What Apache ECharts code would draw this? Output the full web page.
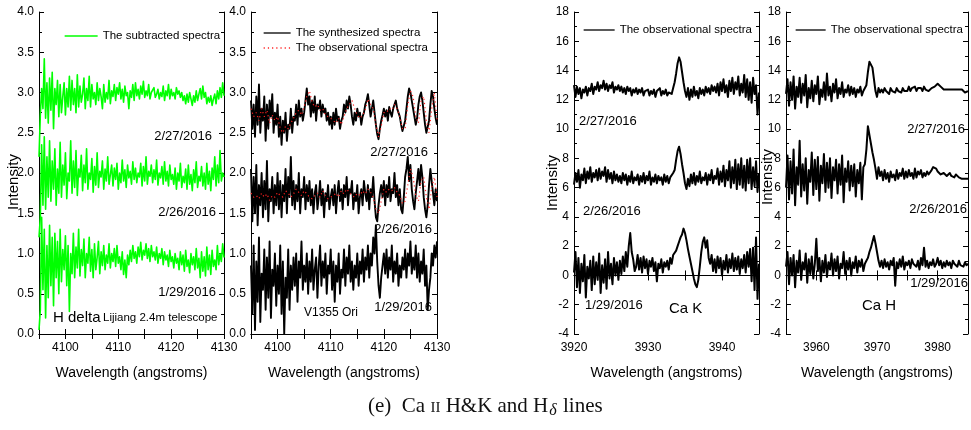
<!DOCTYPE html>
<html>
<head>
<meta charset="utf-8">
<script src="https://cdn.jsdelivr.net/npm/echarts@6/dist/echarts.min.js"></script>
<style>
html,body{margin:0;padding:0;background:#fff;}
#chart{width:971px;height:430px;}
</style>
</head>
<body>
<div id="chart"></div>
<script>
// ---------------- DATA ----------------
// Panel 1: H delta subtracted spectra, 4095-4130 A, step 0.25 A
const hdStart = 4095, hdStep = 0.25;
const sub20160227 = [2.20,2.72,3.05,2.80,3.42,2.68,3.12,2.62,3.18,2.78,
3.25,2.55,3.05,2.85,3.15,2.70,3.10,2.75,2.95,3.12,
2.72,3.05,2.82,3.20,2.78,3.15,2.85,3.05,2.75,3.22,
2.82,3.08,2.88,2.98,3.18,2.80,3.05,2.90,3.20,2.82,
3.10,2.92,3.00,2.85,3.12,2.90,3.05,2.95,2.80,3.10,
2.88,3.00,2.92,3.15,2.86,3.02,2.95,3.10,2.90,3.06,
2.98,3.12,2.92,3.04,2.88,3.08,2.96,3.00,2.80,3.02,
2.94,3.10,2.90,3.12,2.96,3.04,2.92,3.08,2.98,3.14,
2.94,3.02,2.96,3.10,2.92,3.00,2.98,3.06,2.94,2.98,
3.04,2.92,3.00,2.95,3.08,2.90,3.02,2.96,3.10,2.92,
3.04,2.96,3.00,2.92,3.06,2.98,3.02,2.94,3.00,2.90,
2.96,2.86,2.98,2.88,3.00,2.92,2.84,2.96,2.88,3.02,
2.90,2.98,3.05,2.92,3.08,2.94,3.00,2.86,2.94,2.88,
2.96,2.84,2.92,2.98,2.86,3.02,2.92,3.06,2.94,3.12,2.96];
const sub20160226 = [1.20,1.45,2.35,1.60,2.45,1.55,2.20,1.70,2.40,1.65,
2.15,1.80,2.30,1.60,2.05,1.75,2.38,1.70,2.10,1.85,
2.25,1.68,2.00,1.90,2.40,1.75,2.15,1.82,2.28,1.72,
2.05,1.95,2.22,1.78,2.10,1.88,2.30,1.80,2.00,1.92,
2.18,1.76,2.08,1.85,2.25,1.82,2.02,1.95,2.15,1.80,
2.05,1.90,2.20,1.86,1.98,2.10,1.84,2.06,1.92,2.12,
1.80,2.00,1.88,2.16,1.90,2.04,1.82,2.10,1.94,2.02,
1.86,2.14,1.92,2.06,1.88,2.00,1.95,2.12,1.84,2.08,
1.90,2.20,1.86,2.02,1.96,2.10,1.88,2.04,1.92,2.16,
1.85,2.00,1.94,2.08,1.86,2.14,1.90,2.02,1.84,2.10,
1.92,1.98,1.86,2.06,1.80,2.00,1.90,2.12,1.82,1.96,
1.88,2.05,1.80,2.10,1.86,1.98,1.78,2.04,1.88,2.14,
1.82,1.96,1.90,2.08,1.84,2.00,1.80,2.12,1.86,2.02,
1.78,2.06,1.92,2.20,1.84,2.10,1.88,2.28,1.90,2.00,1.95];
const sub20160129 = [0.05,0.30,1.45,0.55,1.30,0.20,1.10,0.45,1.35,0.60,
1.20,0.35,1.25,0.70,1.15,0.50,1.30,0.65,1.05,0.80,
1.22,0.60,1.10,0.28,1.00,0.75,1.25,0.70,1.08,0.82,
1.30,0.72,1.05,0.85,1.18,0.70,1.00,0.88,1.20,0.78,
1.05,0.70,1.12,0.80,0.95,1.15,0.75,1.02,0.85,1.10,
0.80,0.98,0.88,1.12,0.82,1.00,0.90,1.06,0.84,1.10,
0.88,0.96,0.80,1.02,0.74,0.92,0.70,0.98,0.86,1.04,
0.90,1.10,0.94,1.02,0.88,1.08,0.96,1.14,0.92,1.04,
0.98,1.12,0.94,1.06,0.90,1.10,0.96,1.02,0.92,1.08,
0.88,1.00,0.94,1.06,0.86,1.02,0.92,0.98,0.84,1.04,
0.90,0.96,0.82,1.00,0.88,0.94,0.80,1.02,0.86,0.98,
0.78,1.04,0.84,0.92,0.76,1.00,0.86,0.96,0.80,1.06,
0.82,0.94,0.70,1.02,0.78,0.96,0.72,1.08,0.80,0.98,
0.74,1.04,0.84,0.92,0.80,1.10,0.86,1.00,0.90,1.12,0.95];

// Panel 2: synthesized (step 0.25 A) and observational (step 0.5 A) spectra
const obsStep = 0.5;
const syn20160227 = [2.90,2.55,2.85,2.45,2.95,2.60,3.10,2.50,2.80,2.65,2.95,2.40,2.85,2.55,2.90,2.70,2.98,2.50,2.75,2.60,2.85,
2.45,2.70,2.35,2.65,2.50,2.75,2.40,2.60,2.55,2.80,2.50,2.70,
2.65,2.85,2.60,2.90,2.70,2.80,2.65,2.75,2.90,3.05,2.85,2.95,
2.70,2.90,2.75,2.95,2.65,2.85,2.80,2.90,2.70,2.85,2.75,2.80,2.65,2.75,2.60,2.70,
2.55,2.75,2.60,2.80,2.65,2.70,2.55,2.65,2.70,2.85,2.75,2.90,2.80,2.95,2.85,2.70,
2.60,2.75,2.65,2.80,2.70,2.75,2.60,2.70,2.75,2.85,2.90,2.98,2.85,2.70,2.80,2.90,
2.75,2.60,2.48,2.42,2.55,2.65,2.72,2.80,
2.70,2.78,2.65,2.82,2.75,2.70,2.80,2.85,2.90,2.80,2.75,2.70,2.60,2.52,2.50,2.65,
2.80,2.95,3.05,3.00,2.90,2.80,2.70,2.60,2.68,2.85,2.95,3.00,
2.90,2.75,2.60,2.50,2.48,2.65,2.85,3.02,2.95,2.80,2.68,2.60];
const syn20160226 = [2.05,1.40,1.95,1.50,2.10,1.35,1.85,1.60,2.00,1.45,1.90,1.55,2.15,1.40,1.80,1.65,1.95,1.50,1.85,1.60,2.00,
1.55,1.90,1.45,1.85,1.65,2.05,1.50,1.95,1.70,2.20,1.60,1.90,
1.55,1.85,1.65,2.00,1.50,1.80,1.70,1.95,1.55,1.85,1.65,1.90,
1.60,1.80,1.50,1.75,1.85,1.55,1.70,1.90,1.60,1.80,1.45,1.75,1.65,1.85,1.55,1.70,
1.80,1.60,1.85,1.50,1.75,1.90,1.65,1.80,1.55,1.85,1.70,1.95,1.60,1.80,1.75,1.90,
1.55,1.75,1.65,1.85,1.50,1.70,1.80,1.60,1.90,1.75,1.65,1.85,1.55,1.80,1.70,1.95,
1.65,1.45,1.40,1.60,1.75,1.85,1.70,1.90,
1.60,1.85,1.70,1.95,1.65,1.80,1.75,2.00,1.70,1.85,1.60,1.80,1.55,1.50,1.70,1.95,
2.05,2.20,1.90,2.10,1.80,1.65,1.55,1.75,1.90,2.05,1.85,2.10,
1.95,1.70,1.55,1.45,1.60,1.85,2.05,1.90,1.75,1.60,1.80,1.65];
const syn20160129 = [0.85,0.25,1.10,0.05,0.90,0.40,1.20,0.15,0.75,0.55,1.05,0.30,0.95,0.45,1.15,0.20,0.80,0.60,1.00,0.35,0.85,
0.50,1.10,0.25,0.90,0.00,0.70,0.45,1.05,0.30,0.85,0.55,0.95,
0.60,1.00,0.40,0.90,0.70,1.15,0.55,0.85,0.65,1.00,0.50,0.90,
0.65,1.05,0.55,0.80,0.95,0.45,0.85,1.10,0.60,0.90,0.70,1.00,0.50,0.85,0.75,1.05,
0.55,0.90,0.40,0.85,0.65,1.00,0.50,0.80,0.70,1.05,0.60,0.95,0.75,1.10,0.65,0.90,
0.55,0.85,0.70,1.00,0.60,0.90,0.75,1.05,0.65,0.95,0.80,1.10,0.70,1.00,0.85,1.20,
1.00,1.35,0.90,0.60,0.45,0.70,0.85,1.00,
0.75,1.05,0.70,0.95,0.80,1.10,0.65,0.90,0.75,1.00,0.60,0.85,0.70,0.95,0.80,1.05,
0.70,1.00,0.85,1.15,0.75,0.95,0.80,1.10,0.70,1.00,0.65,0.90,
0.75,1.05,0.60,0.85,0.30,0.55,0.70,1.00,0.85,1.10,0.95,1.15];
const obs20160227 = [2.80,2.70,2.75,2.65,2.80,2.70,2.78,2.62,2.72,2.65,2.70,
2.55,2.50,2.58,2.55,2.62,2.68,2.75,2.78,2.72,2.82,
2.95,3.02,2.88,2.82,2.85,2.78,2.80,2.72,2.70,2.68,
2.65,2.62,2.68,2.60,2.70,2.80,2.85,2.90,2.80,2.72,
2.68,2.72,2.78,2.92,2.85,2.80,2.60,2.45,2.58,2.75,
2.75,2.80,2.78,2.85,2.80,2.70,2.55,2.55,2.85,3.02,
2.95,2.70,2.62,2.90,2.95,2.65,2.50,2.80,3.00,2.65];
const obs20160226 = [1.75,1.70,1.72,1.68,1.75,1.70,1.74,1.66,1.72,1.70,1.76,
1.72,1.70,1.78,1.75,1.70,1.74,1.80,1.76,1.72,1.78,
1.74,1.70,1.68,1.72,1.75,1.70,1.78,1.72,1.68,1.70,
1.72,1.75,1.70,1.78,1.74,1.80,1.76,1.72,1.70,1.75,
1.72,1.78,1.74,1.80,1.76,1.70,1.55,1.50,1.65,1.80,
1.76,1.80,1.78,1.82,1.76,1.72,1.62,1.65,1.85,2.05,
1.95,1.72,1.65,1.90,1.95,1.70,1.55,1.82,1.95,1.70];

// Panel 3: Ca K, 3920-3945 A, step 0.2 A
const kStart = 3920, kStep = 0.2;
const caK20160227 = [13.0,12.2,12.9,12.4,12.8,12.1,12.7,12.5,12.9,12.3,12.8,12.6,13.1,12.4,12.9,12.7,
13.2,12.6,13.0,12.8,13.3,12.7,13.1,12.6,13.0,12.8,13.2,12.5,12.9,12.7,13.0,
12.6,12.9,12.5,12.8,12.4,12.9,12.6,12.8,12.3,12.7,12.5,12.8,12.4,12.7,12.5,
12.8,12.3,12.6,12.5,12.7,12.3,12.6,12.4,12.7,12.2,12.6,12.5,12.8,12.3,12.6,12.4,12.7,12.3,12.5,12.6,12.4,12.8,
13.2,13.8,14.5,14.9,14.6,13.9,13.2,12.6,12.2,12.8,
12.0,12.7,12.2,12.9,12.3,12.6,12.1,12.8,12.4,12.7,12.3,12.9,12.5,12.8,12.4,13.0,12.6,12.9,12.5,13.1,
12.3,13.2,12.6,13.4,12.5,13.0,12.2,13.3,12.6,13.5,12.4,13.2,12.7,13.6,12.3,13.1,12.5,13.7,12.2,13.4,
12.0,13.2,11.8,13.5,12.4,13.0,11.0,12.5];
const caK20160226 = [6.2,7.0,6.4,7.2,6.0,6.9,6.5,7.3,6.3,7.1,6.6,7.4,6.4,7.0,6.7,7.2,
6.5,7.3,6.6,7.1,6.8,7.4,6.4,7.2,6.6,7.0,6.3,7.1,6.5,6.9,6.4,
6.8,6.3,7.0,6.5,6.9,6.2,6.8,6.4,7.1,6.3,6.7,6.5,6.9,6.2,6.8,
6.4,7.0,6.3,6.8,6.5,7.1,6.2,6.7,6.4,6.9,6.3,6.8,6.5,6.7,6.2,6.9,6.4,6.8,6.3,6.7,6.6,7.0,
7.2,7.9,8.5,8.8,8.3,7.6,7.0,6.3,5.9,6.6,
6.1,6.9,6.3,7.0,6.2,6.8,6.4,7.1,6.3,6.7,6.5,7.0,6.2,6.9,6.5,7.2,6.3,6.8,6.6,7.3,
6.2,7.1,6.4,7.5,6.1,7.2,6.5,7.8,6.0,7.4,6.3,7.9,5.9,7.6,6.2,8.0,6.0,7.5,5.8,7.9,
6.3,8.0,5.9,7.4,6.1,7.8,5.7,7.0];
const caK20160129 = [0.2,1.6,-0.8,1.2,-1.2,0.8,-0.4,1.4,-1.5,0.6,-0.2,1.0,-1.0,1.3,-0.6,0.9,
-0.3,1.5,-1.2,0.7,-0.5,1.1,-0.9,1.6,-0.2,0.8,-0.6,1.2,0.0,0.9,-0.3,
1.0,0.1,1.3,0.3,1.6,0.6,2.0,2.9,1.6,1.1,0.3,0.6,1.4,0.4,1.2,
0.2,1.3,0.5,1.1,0.1,1.0,0.6,1.2,0.3,0.9,-0.4,0.8,0.5,1.1,0.2,0.9,0.6,1.0,0.4,1.2,0.8,1.4,
1.4,1.7,2.0,2.3,2.6,2.8,3.2,2.9,2.4,1.8,
1.3,0.8,0.3,-0.2,-0.6,-0.8,-0.3,0.6,1.6,2.3,2.6,1.9,2.4,1.2,0.8,1.4,0.3,1.1,0.2,1.3,
0.5,1.2,0.0,1.0,0.4,1.4,0.2,1.1,0.5,1.5,0.3,1.2,0.4,1.3,0.1,1.1,0.5,1.4,0.2,1.6,
0.6,1.8,-0.4,1.9,-1.0,2.6,-1.6,0.8];

// Panel 4: Ca H, 3955-3985 A, step 0.25 A
const hStart = 3955, hStep = 0.25;
const caH20160227 = [12.4,13.4,11.6,13.2,12.0,13.6,11.4,12.9,12.2,13.5,
11.8,13.1,12.3,13.7,11.5,12.8,12.1,13.3,11.9,13.0,
12.4,13.6,11.7,12.7,12.2,13.2,12.0,13.8,12.3,12.9,
11.9,13.1,12.5,13.4,12.1,12.8,12.4,13.2,12.2,12.7,
12.5,13.0,12.3,12.9,12.4,12.8,12.2,12.7,12.5,12.9,
12.3,12.6,12.5,
13.0,13.9,14.6,14.7,14.2,13.4,12.6,12.2,12.8,12.5,
12.7,12.5,12.8,12.6,12.7,12.4,12.8,12.6,12.7,12.5,
12.8,12.6,12.7,12.5,12.8,12.6,12.7,12.6,12.9,12.6,
12.8,12.7,12.9,12.6,12.8,12.7,12.8,12.6,12.9,12.7,
12.8,12.6,12.7,12.8,12.7,12.9,13.0,13.1,13.0,12.9,
12.8,12.7,12.6,12.7,12.6,12.7,12.8,12.7,12.8,12.7,
12.8,12.7,12.6,12.7,12.6,12.5,12.6,12.6];
const caH20160226 = [6.0,8.2,5.2,7.8,5.6,8.6,4.8,7.4,6.2,9.2,
5.4,7.6,5.8,8.0,4.9,7.2,6.4,8.4,5.5,7.9,
5.9,8.1,5.1,7.5,6.3,8.3,5.7,7.7,6.0,8.0,
5.3,7.4,6.5,7.9,5.6,7.6,6.2,8.2,5.0,7.3,
6.4,7.8,5.8,7.5,6.1,7.6,5.4,7.2,6.3,7.7,
5.2,7.4,7.6,
8.6,10.2,9.6,9.0,8.4,7.9,7.3,6.6,7.4,6.8,
7.1,6.5,7.2,6.6,7.0,6.4,7.1,6.7,6.9,6.5,
7.2,6.6,7.0,6.8,7.3,6.6,7.1,6.7,7.2,6.8,
7.0,6.6,7.3,6.7,7.1,6.9,7.2,6.7,7.0,6.8,
7.1,6.9,7.0,7.2,7.4,7.5,7.3,7.1,7.0,6.9,
6.8,7.0,6.9,6.8,6.9,7.0,6.8,6.9,6.7,6.9,
6.8,6.7,6.8,6.6,6.7,6.6,6.5,6.6];
const caH20160129 = [0.6,1.6,-0.6,1.2,0.0,1.4,-0.8,1.0,0.2,1.7,
-0.3,0.9,0.4,1.5,-0.5,1.1,0.1,1.3,-0.2,0.8,
2.5,0.3,1.2,-0.4,1.0,0.2,1.4,-0.1,0.9,0.4,
1.5,0.0,1.1,0.3,1.3,-0.2,0.8,0.5,1.6,0.1,
1.0,0.4,1.2,0.0,0.9,0.5,1.3,0.2,1.0,0.6,
1.1,0.3,0.8,
1.0,1.2,1.6,1.9,2.3,2.7,2.2,1.6,1.0,0.6,
1.0,0.5,1.1,0.6,0.9,0.4,1.0,0.7,1.2,-0.7,
0.9,0.5,1.1,0.6,1.3,0.4,0.9,0.7,1.0,0.5,
1.1,0.8,0.9,0.6,1.0,0.4,1.2,0.7,1.9,0.6,
1.0,0.5,0.9,0.7,1.1,0.6,0.8,1.2,0.7,1.0,
0.5,0.9,0.6,1.0,0.7,0.9,0.5,1.0,0.8,0.9,
0.6,1.0,0.7,0.8,0.6,0.9,0.7,0.8];

const dates = ['2/27/2016', '2/26/2016', '1/29/2016'];
const legendNames = {
  sub: 'The subtracted spectra',
  syn: 'The synthesized spectra',
  obsRed: 'The observational spectra',
  obsK: 'The observational spectra',
  obsH: 'The observational spectra'
};
const xName = 'Wavelength (angstroms)';
const yName = 'Intensity';

// ---------------- CHART ----------------
const FONT = '"Liberation Sans", Arial, sans-serif';
const SERIF = '"Liberation Serif", "Times New Roman", serif';
const toPairs = (start, step, vals) => vals.map((v, i) => [+(start + i * step).toFixed(3), v]);

const panels = [
  {left: 39,  width: 185, xmin: 4095, xmax: 4130, ymin: 0,  ymax: 4,  yint: 0.5, ydec: 1},
  {left: 251, width: 186, xmin: 4095, xmax: 4130, ymin: 0,  ymax: 4,  yint: 0.5, ydec: 1},
  {left: 574, width: 185, xmin: 3920, xmax: 3945, ymin: -4, ymax: 18, yint: 2,   ydec: 0},
  {left: 786, width: 184, xmin: 3955, xmax: 3985, ymin: -4, ymax: 18, yint: 2,   ydec: 0}
];
const TOP = 12, H = 322;

const grid = [], xAxis = [], yAxis = [];
const axLine = {show: true, lineStyle: {color: '#000', width: 1}};
const tick = {show: true, inside: true, length: 5, lineStyle: {color: '#000'}};
const minor = {show: true, splitNumber: 2, length: 3, lineStyle: {color: '#000'}};
panels.forEach((p, i) => {
  grid.push({left: p.left, top: TOP, width: p.width, height: H, containLabel: false});
  xAxis.push({
    type: 'value', gridIndex: i, min: p.xmin, max: p.xmax, interval: 5, position: 'bottom',
    axisLine: axLine, axisTick: tick, minorTick: {show: false}, splitLine: {show: false},
    axisLabel: {color: '#000', fontSize: 12, fontFamily: FONT, margin: 8,
      formatter: v => (v % 10 === 0 ? String(v) : '')},
    name: xName, nameLocation: 'middle', nameGap: 32,
    nameTextStyle: {color: '#000', fontSize: 14, fontFamily: FONT}
  });
  xAxis.push({
    type: 'value', gridIndex: i, min: p.xmin, max: p.xmax, interval: 5, position: 'top',
    axisLine: axLine, axisTick: tick, axisLabel: {show: false}, splitLine: {show: false}
  });
  yAxis.push({
    type: 'value', gridIndex: i, min: p.ymin, max: p.ymax, interval: p.yint, position: 'left',
    axisLine: axLine, axisTick: tick, minorTick: minor, splitLine: {show: false},
    axisLabel: {color: '#000', fontSize: 12, fontFamily: FONT, margin: 5,
      formatter: v => v.toFixed(p.ydec)}
  });
  yAxis.push({
    type: 'value', gridIndex: i, min: p.ymin, max: p.ymax, interval: p.yint, position: 'right',
    axisLine: axLine, axisTick: tick, minorTick: minor, splitLine: {show: false},
    axisLabel: {show: false}
  });
});

function line(name, panel, data, color, width, extra) {
  return Object.assign({
    type: 'line', name: name, xAxisIndex: panel * 2, yAxisIndex: panel * 2,
    data: data, showSymbol: false, symbol: 'none', silent: true, animation: false,
    sampling: null, z: 2,
    lineStyle: {color: color, width: width, join: 'round'}, itemStyle: {color: color}
  }, extra || {});
}
const GREEN = '#00ff00', BLACK = '#000000', RED = '#ff2020';
const BW = 2.0;
const series = [
  line('sub', 0, toPairs(hdStart, hdStep, sub20160227), GREEN, 1.6),
  line('sub', 0, toPairs(hdStart, hdStep, sub20160226), GREEN, 1.6),
  line('sub', 0, toPairs(hdStart, hdStep, sub20160129), GREEN, 1.6),
  line('syn', 1, toPairs(hdStart, hdStep, syn20160227), BLACK, 1.9),
  line('syn', 1, toPairs(hdStart, hdStep, syn20160226), BLACK, 1.9),
  line('syn', 1, toPairs(hdStart, hdStep, syn20160129), BLACK, 1.9),
  line('obsRed', 1, toPairs(hdStart, obsStep, obs20160227), RED, 1.2, {z: 3, lineStyle: {color: RED, width: 1.2, type: [1.2, 3]}}),
  line('obsRed', 1, toPairs(hdStart, obsStep, obs20160226), RED, 1.2, {z: 3, lineStyle: {color: RED, width: 1.2, type: [1.2, 3]}}),
  line('obsK', 2, toPairs(kStart, kStep, caK20160227), BLACK, BW),
  line('obsK', 2, toPairs(kStart, kStep, caK20160226), BLACK, BW),
  line('obsK', 2, toPairs(kStart, kStep, caK20160129), BLACK, BW),
  line('obsH', 3, toPairs(hStart, hStep, caH20160227), BLACK, BW),
  line('obsH', 3, toPairs(hStart, hStep, caH20160226), BLACK, BW),
  line('obsH', 3, toPairs(hStart, hStep, caH20160129), BLACK, BW)
];

const legTxt = {color: '#000', fontSize: 11.5, fontFamily: FONT};
const fmt = n => legendNames[n];
const legBase = {selectedMode: false, textStyle: legTxt, formatter: fmt, padding: 0,
  itemHeight: 14, itemStyle: {opacity: 0}, lineStyle: {width: 1.3}};
const legend = [
  Object.assign({data: ['sub'], left: 64, top: 30, itemWidth: 33}, legBase),
  Object.assign({data: ['syn', 'obsRed'], orient: 'vertical', left: 263, top: 27, itemGap: 3, itemWidth: 27}, legBase),
  Object.assign({data: ['obsK'], left: 583, top: 24, itemWidth: 31}, legBase),
  Object.assign({data: ['obsH'], left: 795, top: 24, itemWidth: 30}, legBase)
];

function txt(x, y, s, size, align) {
  return {type: 'text', x: x, y: y, silent: true, z: 10,
    style: {text: s, fill: '#000', font: size + 'px ' + FONT, align: align || 'left', verticalAlign: 'middle'}};
}
function vtxt(x, y, s) {
  return {type: 'text', x: x, y: y, rotation: Math.PI / 2, silent: true, z: 10,
    style: {text: s, fill: '#000', font: '15px ' + FONT, align: 'center', verticalAlign: 'middle'}};
}
const graphic = [
  // panel 1
  txt(212, 136, dates[0], 13, 'right'),
  txt(216, 212, dates[1], 13, 'right'),
  txt(216, 292, dates[2], 13, 'right'),
  txt(53, 318, 'H delta', 15, 'left'),
  txt(103, 318, 'Lijiang 2.4m telescope', 11.5, 'left'),
  // panel 2
  txt(428, 152, dates[0], 13, 'right'),
  txt(432, 229, dates[1], 13, 'right'),
  txt(432, 307, dates[2], 13, 'right'),
  txt(304, 313, 'V1355 Ori', 12, 'left'),
  // panel 3
  txt(579, 121, dates[0], 13, 'left'),
  txt(583, 211, dates[1], 13, 'left'),
  txt(585, 305, dates[2], 13, 'left'),
  txt(669, 309, 'Ca K', 15, 'left'),
  // panel 4
  txt(965, 129, dates[0], 13, 'right'),
  txt(967, 209, dates[1], 13, 'right'),
  txt(968, 283, dates[2], 13, 'right'),
  txt(862, 306, 'Ca H', 15, 'left'),
  // y axis names
  vtxt(14, 182, yName),
  vtxt(553, 183, yName),
  vtxt(768, 177, yName),
  // caption
  {type: 'text', x: 368, y: 406, silent: true, z: 10,
    style: {
      text: '{a|(e)  Ca }{sc|II}{a| H&K and H}{sub|δ}{a| lines}',
      verticalAlign: 'middle', align: 'left',
      rich: {
        a: {fontFamily: SERIF, fontSize: 21, fill: '#111', lineHeight: 26},
        sc: {fontFamily: SERIF, fontSize: 15, fill: '#111', lineHeight: 26, padding: [4, 0, 0, 0]},
        sub: {fontFamily: SERIF, fontSize: 16, fontStyle: 'italic', fill: '#111', lineHeight: 26, verticalAlign: 'bottom', padding: [0, 1, 0, 1]}
      }
    }}
];

const chart = echarts.init(document.getElementById('chart'), null, {renderer: 'canvas'});
chart.setOption({
  backgroundColor: '#ffffff',
  animation: false,
  grid: grid, xAxis: xAxis, yAxis: yAxis, legend: legend, series: series, graphic: graphic
});
</script>
</body>
</html>
